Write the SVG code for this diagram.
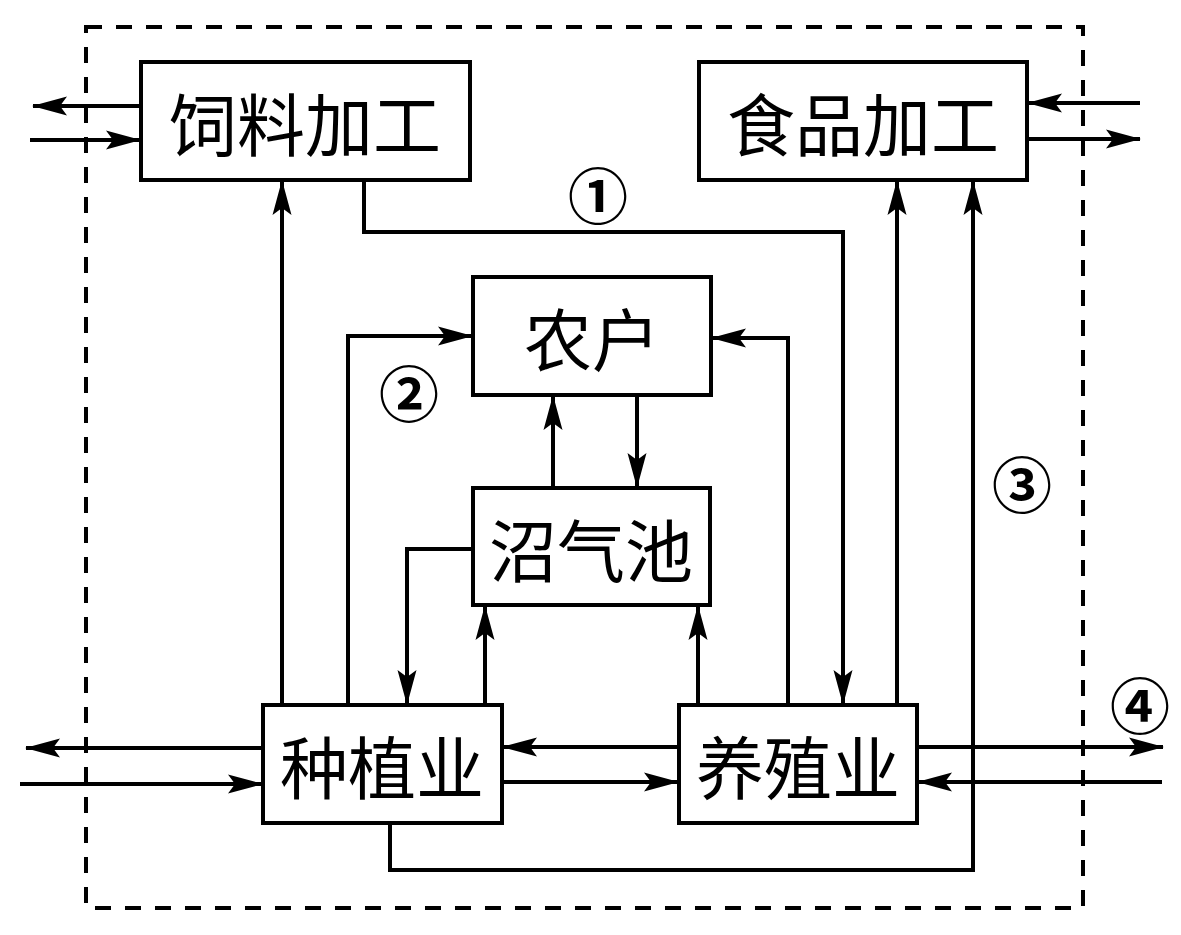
<svg xmlns="http://www.w3.org/2000/svg" width="1181" height="935" viewBox="0 0 1181 935">
<style>
.box{fill:#fff;stroke:#000;stroke-width:4}
.lbl{font-family:"Noto Sans CJK SC","Noto Sans CJK JP",sans-serif;font-size:68px;text-anchor:middle;dominant-baseline:central;fill:#000}
.num{font-family:"Noto Sans CJK SC","Noto Sans CJK JP",sans-serif;font-size:60px;font-weight:700;text-anchor:middle;dominant-baseline:central;fill:#000}
.c{fill:none;stroke:#000;stroke-width:4}
.a{marker-end:url(#ah)}
</style>
<defs>
<marker id="ah" markerUnits="userSpaceOnUse" viewBox="-36 -11 38 22" refX="0" refY="0" markerWidth="38" markerHeight="22" orient="auto">
<path d="M1,0 L-34,-9.5 L-27,0 L-34,9.5 Z" fill="#000"/>
</marker>
</defs>
<rect x="0" y="0" width="1181" height="935" fill="#fff"/>
<rect x="86" y="27" width="997" height="881" fill="none" stroke="#000" stroke-width="4" stroke-dasharray="16 14"/>
<g id="connectors">
<path class="c a" d="M141,106 H33"/>
<path class="c a" d="M30,140 H140"/>
<path class="c a" d="M1140,103 H1028"/>
<path class="c a" d="M1027,139 H1140"/>
<path class="c a" d="M282,705 V181"/>
<path class="c a" d="M364,180 V232 H843 V704"/>
<path class="c a" d="M348,705 V336 H472"/>
<path class="c a" d="M788,705 V338 H712"/>
<path class="c a" d="M553,488 V396"/>
<path class="c a" d="M637,395 V487"/>
<path class="c a" d="M473,549 H407 V704"/>
<path class="c a" d="M485,705 V606"/>
<path class="c a" d="M698,705 V606"/>
<path class="c a" d="M897,705 V181"/>
<path class="c a" d="M390,823 V870 H973 V181"/>
<path class="c a" d="M263,748 H26"/>
<path class="c a" d="M20,784 H262"/>
<path class="c a" d="M679,747 H503"/>
<path class="c a" d="M502,782 H678"/>
<path class="c a" d="M917,747 H1163"/>
<path class="c a" d="M1162,782 H918"/>
</g>
<g id="n-feed"><rect class="box" x="141" y="62" width="329" height="118"/><text class="lbl" x="305" y="121">饲料加工</text></g>
<g id="n-food"><rect class="box" x="699" y="62" width="328" height="118"/><text class="lbl" x="863" y="121">食品加工</text></g>
<g id="n-farmer"><rect class="box" x="473" y="277" width="238" height="118"/><text class="lbl" x="592" y="336">农户</text></g>
<g id="n-biogas"><rect class="box" x="473" y="488" width="237" height="117"/><text class="lbl" x="591" y="547">沼气池</text></g>
<g id="n-plant"><rect class="box" x="263" y="705" width="239" height="118"/><text class="lbl" x="382" y="764">种植业</text></g>
<g id="n-breed"><rect class="box" x="679" y="705" width="238" height="118"/><text class="lbl" x="798" y="764">养殖业</text></g>
<g id="labels">
<text class="num" x="598" y="192">①</text>
<text class="num" x="409" y="390">②</text>
<text class="num" x="1022" y="481">③</text>
<text class="num" x="1140" y="702">④</text>
</g>
</svg>
